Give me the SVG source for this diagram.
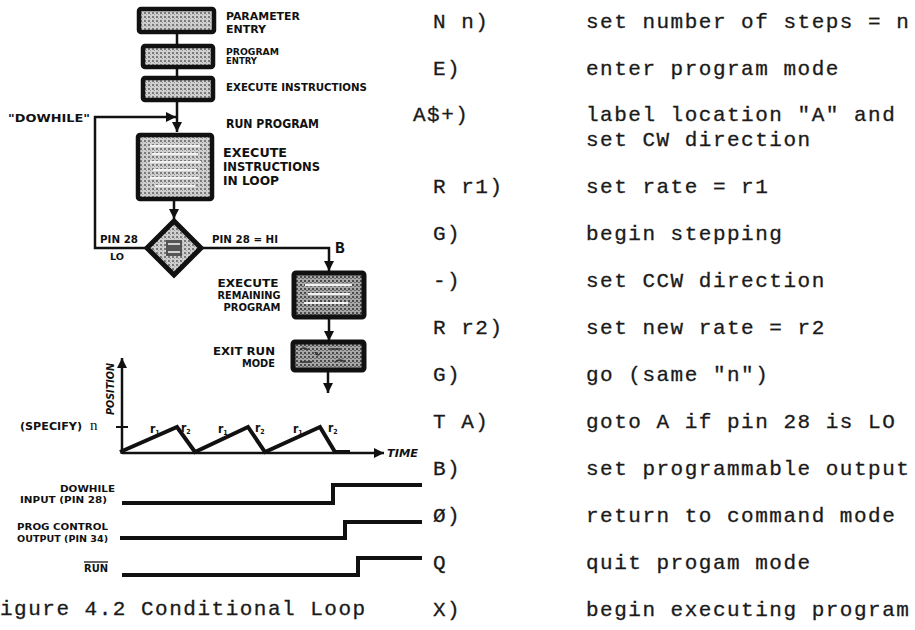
<svg xmlns="http://www.w3.org/2000/svg" width="915" height="630" viewBox="0 0 915 630">
<style>
.hand{font-family:'Liberation Sans Narrow','DejaVu Sans Condensed','Liberation Sans',sans-serif;font-weight:bold;fill:#111}
.it{font-style:italic}
.mono{font-family:'Liberation Mono','DejaVu Sans Mono',monospace;font-size:21px;letter-spacing:1.5px;fill:#1a1a1a;stroke:#1a1a1a;stroke-width:0.3}
.box{stroke:#111;stroke-width:4.5;fill:url(#ht)}
.boxd{stroke:#111;stroke-width:5;fill:url(#htd)}
.line{stroke:#111;stroke-width:2.5;fill:none}
.thick{stroke:#111;stroke-width:4;fill:none;stroke-linejoin:miter}
.inner{stroke:#f2f2f2;stroke-width:2;fill:none}
.innerd{stroke:#333;stroke-width:1.5;fill:none}
</style>
<defs>
<pattern id="ht" width="4" height="4" patternUnits="userSpaceOnUse">
<rect width="4" height="4" fill="#cfcfcf"/><rect width="2" height="2" fill="#7a7a7a"/><rect x="2" y="2" width="1" height="1" fill="#9a9a9a"/>
</pattern>
<pattern id="htd" width="4" height="4" patternUnits="userSpaceOnUse">
<rect width="4" height="4" fill="#a8a8a8"/><rect width="2" height="2" fill="#4a4a4a"/><rect x="2" y="2" width="2" height="1" fill="#6a6a6a"/>
</pattern>
<marker id="ah" viewBox="0 0 10 10" refX="10" refY="5" markerWidth="4" markerHeight="5" orient="auto" markerUnits="strokeWidth">
<path d="M0,0 L10,5 L0,10 z" fill="#111"/>
</marker>
</defs>

<g id="connectors">
<line class="line" x1="177" y1="32" x2="177" y2="46"/>
<line class="line" x1="177" y1="67" x2="177" y2="78"/>
<line class="line" x1="177" y1="100" x2="177" y2="132" marker-end="url(#ah)"/>
<polyline class="line" points="145,248 95,248 95,117 176,117" marker-end="url(#ah)"/>
<line class="line" x1="174" y1="199" x2="174" y2="219" marker-end="url(#ah)"/>
<polyline class="line" points="202,248 329,248 329,271" marker-end="url(#ah)"/>
<line class="line" x1="329" y1="317" x2="329" y2="341" marker-end="url(#ah)"/>
<line class="line" x1="328" y1="370" x2="328" y2="393" marker-end="url(#ah)"/>
</g>

<g id="parameter-entry">
<rect class="box" x="139" y="9" width="75" height="23" rx="2"/>
<text class="hand" x="226" y="20" font-size="10" textLength="74" lengthAdjust="spacingAndGlyphs">PARAMETER</text>
<text class="hand" x="226" y="33" font-size="10" textLength="40" lengthAdjust="spacingAndGlyphs">ENTRY</text>
</g>
<g id="program-entry">
<rect class="box" x="143" y="46" width="70" height="21" rx="2"/>
<text class="hand" x="226" y="55" font-size="8.5" textLength="53" lengthAdjust="spacingAndGlyphs">PROGRAM</text>
<text class="hand" x="226" y="64" font-size="8.5" textLength="31" lengthAdjust="spacingAndGlyphs">ENTRY</text>
</g>
<g id="execute-instructions">
<rect class="box" x="143" y="78" width="70" height="22" rx="2"/>
<text class="hand" x="226" y="91" font-size="10" textLength="141" lengthAdjust="spacingAndGlyphs">EXECUTE INSTRUCTIONS</text>
</g>
<g id="dowhile-label">
<text class="hand" x="8" y="122" font-size="10" textLength="82" lengthAdjust="spacingAndGlyphs">"DOWHILE"</text>
</g>
<g id="run-program">
<text class="hand" x="226" y="128" font-size="12" textLength="93" lengthAdjust="spacingAndGlyphs">RUN PROGRAM</text>
</g>
<g id="execute-loop">
<rect class="box" x="138" y="135" width="74" height="64" rx="2"/>
<path class="inner" d="M150,146 H200 M152,154 H198 M150,162 H201 M153,170 H197 M150,178 H199 M155,186 H195"/>
<text class="hand" x="223" y="157" font-size="12" textLength="64" lengthAdjust="spacingAndGlyphs">EXECUTE</text>
<text class="hand" x="223" y="171" font-size="12" textLength="97" lengthAdjust="spacingAndGlyphs">INSTRUCTIONS</text>
<text class="hand" x="223" y="185" font-size="12" textLength="56" lengthAdjust="spacingAndGlyphs">IN LOOP</text>
</g>
<g id="decision">
<polygon points="174,221 201,248 174,275 147,248" stroke="#111" stroke-width="5" fill="url(#ht)"/>
<path d="M166,240 h16 v16 h-16 z" fill="#555"/>
<path d="M168,244 H180 M168,252 H180" stroke="#cfcfcf" stroke-width="2"/>
<text class="hand" x="100" y="243" font-size="10" textLength="38" lengthAdjust="spacingAndGlyphs">PIN 28</text>
<text class="hand" x="110" y="260" font-size="9" textLength="14" lengthAdjust="spacingAndGlyphs">LO</text>
<text class="hand" x="212" y="243" font-size="10" textLength="66" lengthAdjust="spacingAndGlyphs">PIN 28 = HI</text>
<text x="335" y="253" font-family="'Liberation Mono',monospace" font-weight="bold" font-size="16" fill="#111">B</text>
</g>
<g id="execute-remaining">
<rect class="boxd" x="294" y="273" width="70" height="44" rx="2"/>
<path class="inner" d="M305,285 H352 M308,294 H350 M304,303 H348"/>
<text class="hand" x="248" y="287" font-size="11" text-anchor="middle" textLength="61" lengthAdjust="spacingAndGlyphs">EXECUTE</text>
<text class="hand" x="249" y="299" font-size="11" text-anchor="middle" textLength="63" lengthAdjust="spacingAndGlyphs">REMAINING</text>
<text class="hand" x="252" y="311" font-size="11" text-anchor="middle" textLength="57" lengthAdjust="spacingAndGlyphs">PROGRAM</text>
</g>
<g id="exit-run-mode">
<rect class="boxd" x="293" y="342" width="71" height="28" rx="2"/>
<path class="innerd" d="M300,350 q4,-4 8,0 M315,352 q3,6 6,0 M330,349 h10 M300,362 h12 M335,362 q5,-4 10,0"/>
<text class="hand" x="275" y="355" font-size="11" text-anchor="end" textLength="62" lengthAdjust="spacingAndGlyphs">EXIT RUN</text>
<text class="hand" x="275" y="367" font-size="11" text-anchor="end" textLength="33" lengthAdjust="spacingAndGlyphs">MODE</text>
</g>

<g id="position-graph">
<line class="line" x1="122" y1="454" x2="122" y2="358" marker-end="url(#ah)"/>
<line class="line" x1="122" y1="453" x2="384" y2="453" marker-end="url(#ah)"/>
<line x1="116" y1="427" x2="128" y2="427" stroke="#111" stroke-width="2"/>
<polyline class="thick" points="120,452 177,427 195,452 248,427 265,452 320,427 335,452 350,452"/>
<text class="hand it" transform="translate(114,415) rotate(-90)" font-size="10" textLength="52" lengthAdjust="spacingAndGlyphs">POSITION</text>
<text class="hand it" x="387" y="457" font-size="10" textLength="31" lengthAdjust="spacingAndGlyphs">TIME</text>
<text class="hand" x="20" y="430" font-size="10" textLength="62" lengthAdjust="spacingAndGlyphs">(SPECIFY)</text>
<text x="90" y="430" font-family="'Liberation Serif',serif" font-size="15" fill="#111">n</text>
<g class="hand" font-size="12">
<text x="150" y="433">r<tspan font-size="7" dy="2">1</tspan></text>
<text x="181" y="432">r<tspan font-size="7" dy="2">2</tspan></text>
<text x="218" y="433">r<tspan font-size="7" dy="2">1</tspan></text>
<text x="255" y="432">r<tspan font-size="7" dy="2">2</tspan></text>
<text x="293" y="433">r<tspan font-size="7" dy="2">1</tspan></text>
<text x="328" y="432">r<tspan font-size="7" dy="2">2</tspan></text>
</g>
</g>

<g id="signals">
<polyline class="thick" points="122,503 333,503 333,485 422,485"/>
<polyline class="thick" points="120,538 345,538 345,522 422,522"/>
<polyline class="thick" points="122,575 358,575 358,558 422,558"/>
<text class="hand" x="115" y="492" font-size="9.5" text-anchor="end" textLength="55" lengthAdjust="spacingAndGlyphs">DOWHILE</text>
<text class="hand" x="20" y="503" font-size="9.5" textLength="87" lengthAdjust="spacingAndGlyphs">INPUT (PIN 28)</text>
<text class="hand" x="17" y="530" font-size="9.5" textLength="91" lengthAdjust="spacingAndGlyphs">PROG CONTROL</text>
<text class="hand" x="17" y="542" font-size="9.5" textLength="91" lengthAdjust="spacingAndGlyphs">OUTPUT (PIN 34)</text>
<text class="hand" x="84" y="572" font-size="10" textLength="24" lengthAdjust="spacingAndGlyphs">RUN</text>
<line x1="84" y1="562" x2="108" y2="562" stroke="#111" stroke-width="1.3"/>
</g>

<g id="caption">
<text class="mono" x="0" y="615">igure 4.2 Conditional Loop</text>
</g>

<g id="command-list" class="mono">
<text x="433" y="28">N n)</text><text x="586" y="28">set number of steps = n</text>
<text x="433" y="75">E)</text><text x="586" y="75">enter program mode</text>
<text x="413" y="121">A$+)</text><text x="586" y="121">label location "A" and</text>
<text x="586" y="146">set CW direction</text>
<text x="433" y="193">R r1)</text><text x="586" y="193">set rate = r1</text>
<text x="433" y="240">G)</text><text x="586" y="240">begin stepping</text>
<text x="433" y="287">-)</text><text x="586" y="287">set CCW direction</text>
<text x="433" y="334">R r2)</text><text x="586" y="334">set new rate = r2</text>
<text x="433" y="381">G)</text><text x="586" y="381">go (same "n")</text>
<text x="433" y="428">T A)</text><text x="586" y="428">goto A if pin 28 is LO</text>
<text x="433" y="475">B)</text><text x="586" y="475">set programmable output</text>
<text x="433" y="522">Ø)</text><text x="586" y="522">return to command mode</text>
<text x="433" y="569">Q</text><text x="586" y="569">quit progam mode</text>
<text x="433" y="616">X)</text><text x="586" y="616">begin executing program</text>
</g>
</svg>
